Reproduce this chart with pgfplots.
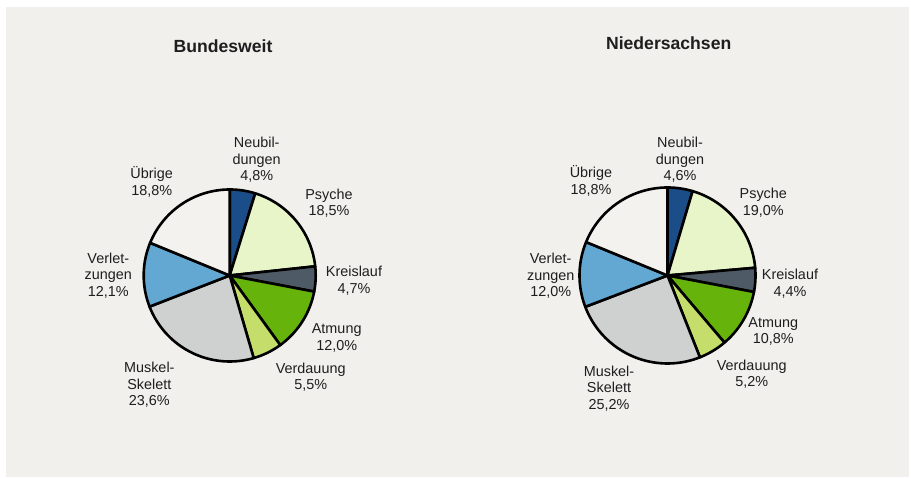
\documentclass[border=0pt]{standalone}
\usepackage{fontspec}
\setmainfont{Liberation Sans}
\usepackage{pgfplots}
\usepackage{pgfplotstable}
\pgfplotsset{compat=1.18}

\definecolor{bgpanel}{RGB}{241,240,237}
\definecolor{txt}{RGB}{30,30,30}
\definecolor{cNeu}{RGB}{27,78,136}
\definecolor{cPsy}{RGB}{232,245,200}
\definecolor{cKre}{RGB}{78,90,101}
\definecolor{cAtm}{RGB}{102,179,12}
\definecolor{cVer}{RGB}{197,222,107}
\definecolor{cMus}{RGB}{207,208,208}
\definecolor{cVlz}{RGB}{99,168,210}
\definecolor{cUeb}{RGB}{243,242,238}

\pgfplotstableread{
name value color
Neubildungen 4.8 cNeu
Psyche 18.5 cPsy
Kreislauf 4.7 cKre
Atmung 12.0 cAtm
Verdauung 5.5 cVer
Muskel-Skelett 23.6 cMus
Verletzungen 12.1 cVlz
Uebrige 18.8 cUeb
}\tabBund

\pgfplotstableread{
name value color
Neubildungen 4.6 cNeu
Psyche 19.0 cPsy
Kreislauf 4.4 cKre
Atmung 10.8 cAtm
Verdauung 5.2 cVer
Muskel-Skelett 25.2 cMus
Verletzungen 12.0 cVlz
Uebrige 18.8 cUeb
}\tabNds

\newcommand{\drawpie}[1]{%
  \def\cum{0}%
  \pgfplotsforeachungrouped \i in {0,...,7}{%
    \pgfplotstablegetelem{\i}{value}\of#1\let\v\pgfplotsretval
    \pgfplotstablegetelem{\i}{color}\of#1\let\c\pgfplotsretval
    \pgfmathsetmacro\a{90-3.6*\cum}%
    \pgfmathsetmacro\b{90-3.6*(\cum+\v)}%
    \edef\temp{\noexpand\addplot[fill=\c, draw=black, line width=2.6bp, line join=round, domain=\b:\a, samples=90, variable=\noexpand\t] ({cos(\noexpand\t)},{sin(\noexpand\t)}) -- (axis cs:0,0) -- cycle;}%
    \temp
    \pgfmathsetmacro\cum{\cum+\v}%
  }%
}

\begin{document}
\begin{tikzpicture}[x=1bp,y=1bp]
\fill[white] (0,0) rectangle (911,478);
\fill[bgpanel] (6,1) rectangle (909,471);

\begin{axis}[at={(229.7bp,202.5bp)}, anchor=origin, x=86bp, y=86bp,
  xmin=-1.1, xmax=1.1, ymin=-1.1, ymax=1.1, hide axis, clip=false]
\drawpie{\tabBund}
\end{axis}

\begin{axis}[at={(667.5bp,202.5bp)}, anchor=origin, x=88bp, y=88bp,
  xmin=-1.1, xmax=1.1, ymin=-1.1, ymax=1.1, hide axis, clip=false]
\drawpie{\tabNds}
\end{axis}

\begin{scope}[every node/.style={text=txt, align=center, font=\fontsize{14.4bp}{16.5bp}\selectfont, inner sep=0pt}]
\node at (256.7,318) {Neubil-\\dungen\\4,8\%};
\node at (329,275) {Psyche\\18,5\%};
\node at (354,197.3) {Kreislauf\\4,7\%};
\node at (336.7,140) {Atmung\\12,0\%};
\node at (310.7,101) {Verdauung\\5,5\%};
\node at (149.3,93) {Muskel-\\Skelett\\23,6\%};
\node at (108.3,202.5) {Verlet-\\zungen\\12,1\%};
\node at (151.7,296) {Übrige\\18,8\%};

\node at (680,318) {Neubil-\\dungen\\4,6\%};
\node at (763.3,275.5) {Psyche\\19,0\%};
\node at (790,194.3) {Kreislauf\\4,4\%};
\node at (773.3,146.3) {Atmung\\10,8\%};
\node at (751.7,104) {Verdauung\\5,2\%};
\node at (609,89.7) {Muskel-\\Skelett\\25,2\%};
\node at (550.7,202) {Verlet-\\zungen\\12,0\%};
\node at (591,297.3) {Übrige\\18,8\%};
\end{scope}

\node[text=txt, font=\fontsize{17.6bp}{20bp}\selectfont\bfseries, inner sep=0pt] at (223,432) {Bundesweit};
\node[text=txt, font=\fontsize{17.6bp}{20bp}\selectfont\bfseries, inner sep=0pt] at (668.7,435) {Niedersachsen};
\end{tikzpicture}
\end{document}
